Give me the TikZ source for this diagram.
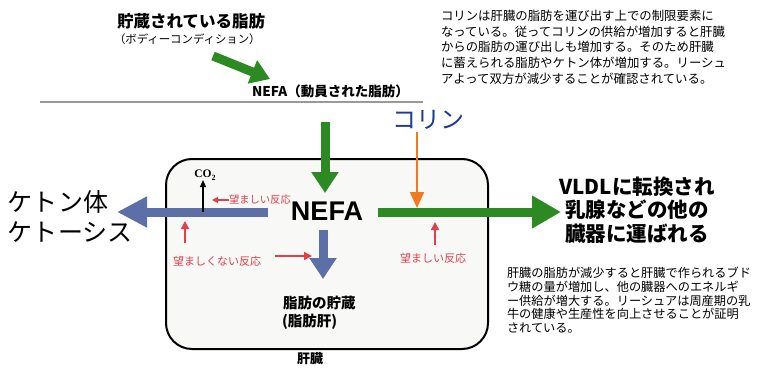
\documentclass[tikz,border=0pt]{standalone}
\usepackage{fontspec}
\setmainfont{Noto Sans CJK JP}
\newfontfamily\libsans{Liberation Sans}
\newfontfamily\libserif{Liberation Serif}
\usetikzlibrary{arrows.meta}
\definecolor{lgreen}{HTML}{2D8A23}
\definecolor{lblue}{HTML}{5C6FA6}
\definecolor{lorange}{HTML}{F07A22}
\definecolor{lred}{HTML}{E0404A}
\definecolor{cblue}{HTML}{1E3C96}
\definecolor{boxfill}{HTML}{F8F8F6}
\newcommand{\fs}[1]{\fontsize{#1}{#1}\selectfont}
\tikzset{
  txt/.style={inner sep=0pt, outer sep=0pt},
  fatgreen/.style={draw=lgreen, line width=9pt},
  fatblue/.style={draw=lblue, line width=9pt},
  redarrow/.style={draw=lred, line width=1.5pt, -{Triangle[width=8pt,length=8pt]}},
  redlabel/.style={txt, text=lred, font=\fs{11}},
}
\begin{document}
\begin{tikzpicture}[x=1pt,y=-1pt]
\useasboundingbox (0,0) rectangle (757,367);
\fill[white] (0,0) rectangle (757,367);

% liver box
\node[draw=black, line width=2pt, fill=boxfill, rounded corners=26pt,
      minimum width=322pt, minimum height=190pt, inner sep=0pt] (liver) at (327,254) {};

% top left
\node[txt, anchor=west, font=\bfseries\fs{16.5}] (stored) at (117,21) {貯蔵されている脂肪};
\node[txt, anchor=west, font=\fs{11.4}] (body) at (114,39) {（ボディーコンディション）};
\coordinate (gA) at (213,56);
\coordinate (gB) at (270,79);
\draw[fatgreen, -{Triangle[width=24pt,length=19pt]}] (gA) -- (gB);
\node[txt, anchor=west, font=\bfseries\fs{13.5}] (nefamob) at (252,91) {NEFA（動員された脂肪）};
\coordinate (sepL) at (40,102);
\coordinate (sepR) at (423,102);
\draw[line width=2.5pt, draw=gray!80] (sepL) -- (sepR);

% top right note
\node[txt, anchor=north west, align=left, font=\fontsize{12.4}{15.7}\selectfont] (note1) at (441,10)
  {コリンは肝臓の脂肪を運び出す上での制限要素に\\
   なっている。従ってコリンの供給が増加すると肝臓\\
   からの脂肪の運び出しも増加する。そのため肝臓\\
   に蓄えられる脂肪やケトン体が増加する。リーシュ\\
   アよって双方が減少することが確認されている。};

% green inflow
\coordinate (inTop) at (325,122);
\coordinate (inBot) at (325,193);
\draw[fatgreen, -{Triangle[width=26pt,length=21pt]}] (inTop) -- (inBot);

% choline
\node[txt, text=cblue, font=\fs{24}] (colin) at (428,120) {コリン};

% small red label near NEFA
\node[redlabel, anchor=west, font=\fs{10.3}] (good1) at (229,200) {望ましい反応};
\coordinate (good1end) at (212,200);
\draw[draw=lred, line width=1.2pt, -{Triangle[width=6pt,length=6pt]}] (good1.west) -- (good1end);

% NEFA
\node[txt, font=\libsans\bfseries\fs{27}] (nefa) at (327,211) {NEFA};

% left blue arrow
\coordinate (lStart) at (268,212);
\coordinate (lEnd) at (117,212);
\draw[fatblue, -{Triangle[width=29pt,length=30pt]}] (lStart) -- (lEnd);

% CO2
\node[txt, font=\libserif\bfseries\fs{11.5}] (co2) at (205,175) {CO\raisebox{-2.5pt}{\fs{8}2}};
\coordinate (co2base) at (203,212);
\draw[line width=1.2pt, -{Triangle[width=6pt,length=7pt]}] (co2base) -- (co2base |- co2.south);

% ketone text
\node[txt, anchor=west, font=\fs{25}] (keton) at (8,202) {ケトン体};
\node[txt, anchor=west, font=\fs{25}] (ketosis) at (8,232) {ケトーシス};

% right green arrow
\coordinate (rStart) at (378,212);
\coordinate (rEnd) at (561,212);
\draw[fatgreen, -{Triangle[width=31pt,length=29pt]}] (rStart) -- (rEnd);

% orange choline arrow
\coordinate (oEnd) at (417,208);
\draw[draw=lorange, line width=2pt, -{Triangle[width=14pt,length=16pt]}] (colin.south -| oEnd) ++(0,2) -- (oEnd);

% down blue arrow
\coordinate (dTop) at (323,230);
\coordinate (dBot) at (323,279);
\draw[fatblue, -{Triangle[width=26pt,length=21pt]}] (dTop) -- (dBot);

% red arrows and labels
\coordinate (ru1a) at (185,243);
\coordinate (ru1b) at (185,221);
\draw[redarrow] (ru1a) -- (ru1b);
\node[redlabel, anchor=west] (bad) at (173,261) {望ましくない反応};
\coordinate (rrEnd) at (312,256);
\draw[redarrow] (bad.east |- rrEnd) ++(14,0) -- (rrEnd);
\coordinate (ru2a) at (435,245);
\coordinate (ru2b) at (435,222);
\draw[redarrow] (ru2a) -- (ru2b);
\node[redlabel] (good2) at (433,258) {望ましい反応};

% fat storage
\node[txt, anchor=west, font=\bfseries\fs{14.5}] (fatstore) at (283,303) {脂肪の貯蔵};
\node[txt, anchor=west, font=\bfseries\fs{14.5}] (fatliver) at (282,322) {(脂肪肝)};
\node[txt, font=\bfseries\fs{13}] (liverlbl) at (310,359) {肝臓};

% VLDL
\node[txt, align=center, font=\bfseries\fontsize{20.5}{23.5}\selectfont] (vldl) at (637,210)
  {VLDLに転換され\\乳腺などの他の\\臓器に運ばれる};

% bottom right note
\node[txt, anchor=north west, align=left, font=\fontsize{12.2}{13.8}\selectfont] (note2) at (507,267)
  {肝臓の脂肪が減少すると肝臓で作られるブド\\
   ウ糖の量が増加し、他の臓器へのエネルギ\\
   ー供給が増大する。リーシュアは周産期の乳\\
   牛の健康や生産性を向上させることが証明\\
   されている。};
\end{tikzpicture}
\end{document}
